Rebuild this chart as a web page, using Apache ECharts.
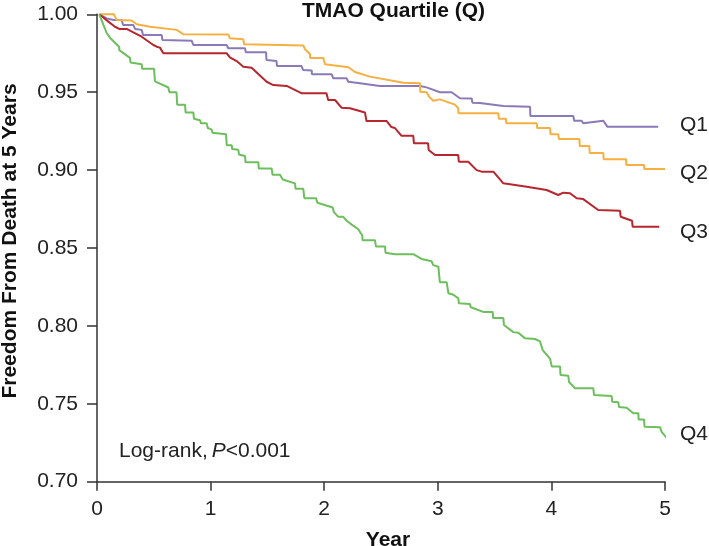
<!DOCTYPE html>
<html><head><meta charset="utf-8">
<script src="https://cdn.jsdelivr.net/npm/echarts@6/dist/echarts.min.js"></script>
<style>html,body{margin:0;padding:0;background:#fff}#c{width:709px;height:546px}</style>
</head><body><div id="c"></div>
<script>
const seriesNames = ['Q1', 'Q2', 'Q3', 'Q4'];
const xTicks = [0, 1, 2, 3, 4, 5];
const yTicks = [0.70, 0.75, 0.80, 0.85, 0.90, 0.95, 1.00];

// [year, survival]
const q1 = [[0.02,1.0],[0.085,0.9974],[0.144,0.9963],[0.217,0.9963],[0.23,0.9931],[0.32,0.9931],[0.335,0.9906],[0.393,0.990],[0.405,0.9867],[0.57,0.9867],[0.575,0.9835],[0.834,0.983],[0.848,0.9803],[1.141,0.9803],[1.155,0.9782],[1.303,0.9782],[1.31,0.9756],[1.488,0.9756],[1.492,0.9707],[1.58,0.970],[1.585,0.9668],[1.80,0.9668],[1.815,0.9642],[1.89,0.964],[1.892,0.9615],[2.066,0.9615],[2.08,0.9589],[2.198,0.9589],[2.212,0.9567],[2.315,0.9557],[2.49,0.954],[2.843,0.954],[2.901,0.9531],[3.019,0.950],[3.122,0.950],[3.195,0.9461],[3.298,0.946],[3.305,0.9433],[3.371,0.943],[3.577,0.9411],[3.812,0.9407],[3.815,0.9347],[4.193,0.9347],[4.2,0.9317],[4.266,0.9317],[4.28,0.930],[4.457,0.9317],[4.492,0.9279],[4.94,0.9279]];
const q2 = [[0.03,1.0],[0.15,1.0],[0.173,0.9963],[0.305,0.996],[0.349,0.9936],[0.467,0.992],[0.702,0.990],[0.76,0.9872],[1.156,0.987],[1.17,0.9846],[1.288,0.984],[1.295,0.9807],[1.816,0.980],[1.831,0.9775],[1.875,0.9745],[1.876,0.972],[1.992,0.972],[2.007,0.968],[2.213,0.966],[2.271,0.963],[2.403,0.960],[2.697,0.956],[2.843,0.9557],[2.845,0.9503],[2.901,0.950],[2.925,0.947],[2.96,0.9445],[3.019,0.9454],[3.151,0.942],[3.18,0.9397],[3.182,0.9365],[3.533,0.9365],[3.537,0.933],[3.6,0.933],[3.603,0.930],[3.871,0.930],[3.875,0.927],[3.988,0.927],[3.992,0.923],[4.061,0.923],[4.065,0.920],[4.246,0.920],[4.25,0.9155],[4.334,0.9155],[4.337,0.911],[4.457,0.911],[4.46,0.907],[4.657,0.907],[4.66,0.9033],[4.815,0.9033],[4.818,0.9007],[5.0,0.9007]];
const q3 = [[0.02,1.0],[0.1,0.9953],[0.158,0.992],[0.196,0.9906],[0.261,0.9906],[0.32,0.9884],[0.393,0.9856],[0.496,0.9803],[0.525,0.9792],[0.554,0.9786],[0.584,0.975],[1.141,0.975],[1.17,0.9724],[1.229,0.970],[1.288,0.9664],[1.361,0.9657],[1.493,0.9567],[1.552,0.9546],[1.67,0.954],[1.803,0.9493],[2.02,0.9493],[2.035,0.945],[2.095,0.945],[2.154,0.940],[2.227,0.9397],[2.359,0.937],[2.372,0.9315],[2.55,0.9315],[2.59,0.9277],[2.623,0.927],[2.681,0.922],[2.784,0.922],[2.79,0.9172],[2.914,0.9172],[2.92,0.9129],[2.975,0.9097],[3.18,0.9097],[3.185,0.9054],[3.268,0.9054],[3.342,0.900],[3.386,0.899],[3.489,0.899],[3.577,0.8915],[3.783,0.8893],[3.958,0.8872],[4.06,0.884],[4.105,0.8855],[4.164,0.8851],[4.222,0.8819],[4.28,0.8814],[4.412,0.8744],[4.604,0.8739],[4.61,0.8701],[4.71,0.8675],[4.715,0.8637],[4.95,0.8637]];
const q4 = [[0.02,1.0],[0.085,0.988],[0.114,0.985],[0.196,0.979],[0.196,0.977],[0.29,0.972],[0.295,0.969],[0.393,0.968],[0.398,0.965],[0.502,0.965],[0.51,0.957],[0.628,0.953],[0.637,0.950],[0.70,0.950],[0.706,0.942],[0.775,0.942],[0.78,0.937],[0.848,0.937],[0.853,0.933],[0.907,0.932],[0.915,0.930],[0.966,0.930],[0.975,0.927],[1.01,0.926],[1.016,0.924],[1.136,0.923],[1.142,0.916],[1.186,0.916],[1.19,0.9135],[1.244,0.913],[1.25,0.910],[1.303,0.909],[1.308,0.905],[1.42,0.905],[1.425,0.901],[1.538,0.901],[1.545,0.897],[1.611,0.897],[1.635,0.894],[1.743,0.8915],[1.748,0.888],[1.816,0.888],[1.825,0.882],[1.928,0.882],[1.94,0.879],[2.075,0.876],[2.085,0.873],[2.125,0.870],[2.168,0.870],[2.198,0.8675],[2.242,0.865],[2.30,0.862],[2.335,0.858],[2.338,0.855],[2.447,0.855],[2.455,0.851],[2.535,0.851],[2.54,0.847],[2.623,0.846],[2.784,0.846],[2.857,0.843],[2.945,0.8415],[2.96,0.839],[3.005,0.838],[3.018,0.828],[3.078,0.828],[3.093,0.821],[3.137,0.820],[3.181,0.8177],[3.185,0.8145],[3.283,0.814],[3.29,0.812],[3.4,0.809],[3.483,0.809],[3.488,0.805],[3.577,0.805],[3.582,0.8006],[3.665,0.796],[3.709,0.7956],[3.768,0.792],[3.856,0.7916],[3.9,0.790],[3.923,0.7845],[3.988,0.779],[4.003,0.774],[4.076,0.774],[4.08,0.7685],[4.149,0.768],[4.155,0.764],[4.208,0.760],[4.369,0.760],[4.375,0.7557],[4.53,0.755],[4.535,0.7513],[4.589,0.751],[4.595,0.748],[4.663,0.7475],[4.721,0.744],[4.765,0.744],[4.768,0.740],[4.815,0.740],[4.82,0.7353],[4.956,0.735],[4.97,0.732],[5.044,0.7257]];

const colors = ['#8c79b8', '#f5b041', '#b5262e', '#6cbf5c'];
const FONT = "'Liberation Sans', Arial, Helvetica, sans-serif";
const chart = echarts.init(document.getElementById('c'), null, {renderer: 'canvas'});
const data = [q1, q2, q3, q4];
const labelY = [126, 174, 233, 434.5];

chart.setOption({
  animation: false,
  backgroundColor: '#fff',
  title: {
    text: 'TMAO Quartile (Q)', left: 388.5, top: -4, textAlign: 'center',
    textStyle: {fontFamily: FONT, fontSize: 21, fontWeight: 'bold', color: '#111'}
  },
  grid: {left: 97, right: 44, top: 14.3, bottom: 64.3, containLabel: false, outerBoundsMode: 'none'},
  xAxis: {
    type: 'value', min: 0, max: 5, interval: 1,
    name: 'Year', nameLocation: 'middle', nameGap: 48,
    nameTextStyle: {fontFamily: FONT, fontSize: 21, fontWeight: 'bold', color: '#111', padding: [0, 0, 0, 14]},
    axisLine: {lineStyle: {color: '#333', width: 1.5}},
    axisTick: {show: true, length: 9, lineStyle: {color: '#333', width: 1.5}},
    axisLabel: {fontFamily: FONT, fontSize: 21, color: '#222', margin: 17},
    splitLine: {show: false}
  },
  yAxis: {
    type: 'value', min: 0.70, max: 1.00, interval: 0.05,
    name: 'Freedom From Death at 5 Years', nameLocation: 'middle', nameGap: 76, nameRotate: 90,
    nameTextStyle: {fontFamily: FONT, fontSize: 21, fontWeight: 'bold', color: '#111', padding: [0, 0, 0, 14]},
    axisLine: {show: true, lineStyle: {color: '#333', width: 1.5}},
    axisTick: {show: true, length: 10, lineStyle: {color: '#333', width: 1.5}},
    axisLabel: {fontFamily: FONT, fontSize: 21, color: '#222', margin: 19,
      formatter: v => v.toFixed(2)},
    splitLine: {show: false}
  },
  series: data.map((d, i) => ({
    name: seriesNames[i], type: 'line', data: d, showSymbol: false, symbol: 'none',
    clip: false, lineStyle: {color: colors[i], width: 2}, itemStyle: {color: colors[i]}
  })),
  graphic: [
    ...seriesNames.map((n, i) => ({
      type: 'text', left: 680, top: labelY[i] - 11,
      style: {text: n, font: '21px ' + FONT, fill: '#222'}
    })),
    {
      type: 'text', left: 119, top: 441,
      style: {
        text: 'Log-rank,{i|P}<0.001', font: '21px ' + FONT, fill: '#222',
        rich: {i: {fontStyle: 'italic', fontFamily: FONT, fontSize: 21, fill: '#222', padding: [0, 0, 0, 4]}}
      }
    }
  ]
});
</script></body></html>
